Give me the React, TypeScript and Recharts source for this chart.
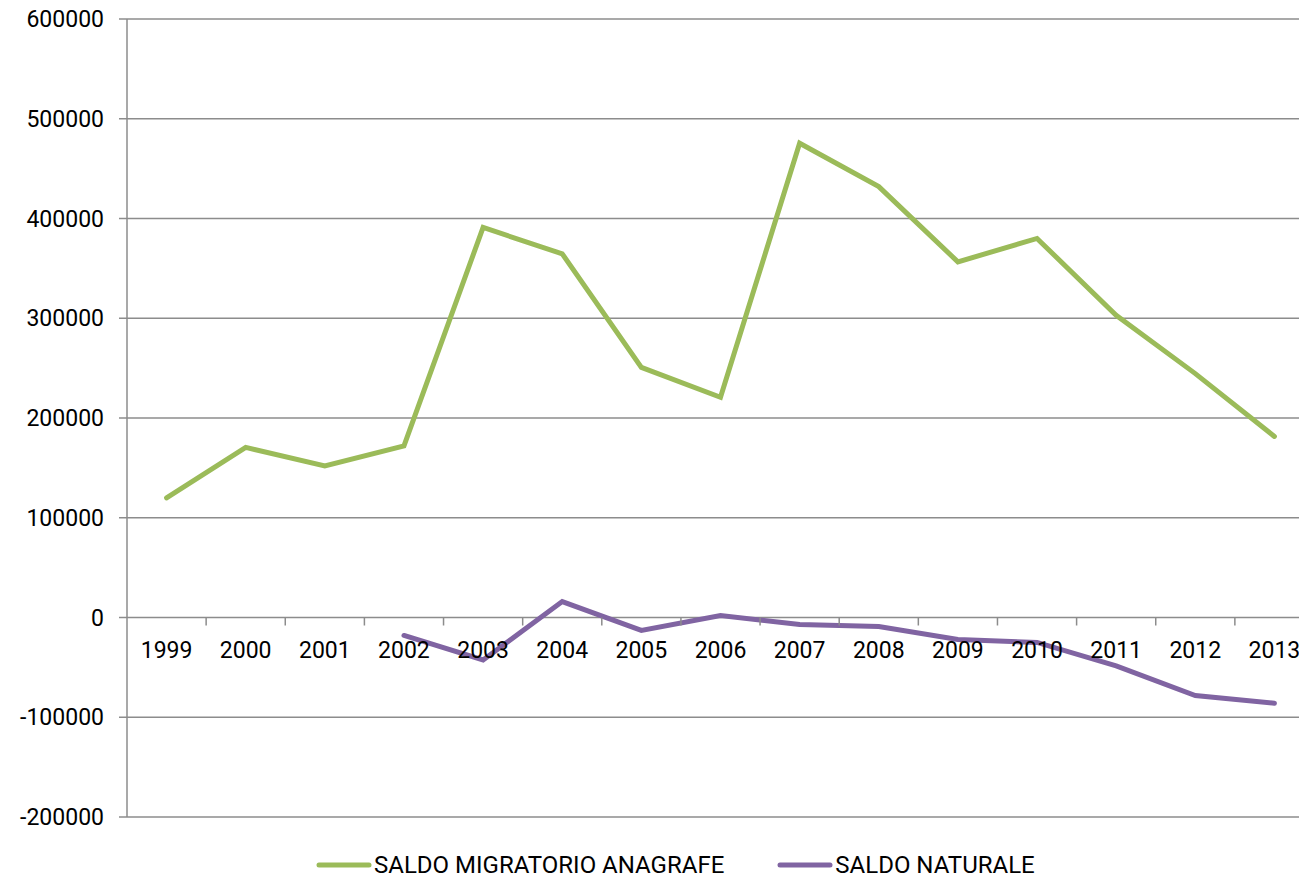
import React from 'react';
import { ComposedChart, Line, XAxis, YAxis, CartesianGrid, Legend, ReferenceDot } from 'recharts';

const years = ['1999', '2000', '2001', '2002', '2003', '2004', '2005', '2006', '2007', '2008', '2009', '2010', '2011', '2012', '2013'];
const saldoMigratorio = [120000, 170500, 152000, 172000, 391000, 364600, 250800, 220800, 475500, 432000, 356500, 380000, 303000, 244500, 181500];
const saldoNaturale: (number | null)[] = [null, null, null, -18000, -42500, 16000, -13000, 2000, -7000, -9000, -22000, -25000, -48500, -78200, -86000];
const yTicks = [-200000, -100000, 0, 100000, 200000, 300000, 400000, 500000, 600000];

const seriesNames = { migr: 'SALDO MIGRATORIO ANAGRAFE', nat: 'SALDO NATURALE' };
const GREEN = '#9BBB59';
const PURPLE = '#8064A2';
const GRID = '#8c8c8c';
const FONT = 'Roboto, "Open Sans", sans-serif';
const FONT_SIZE = 23;
const LEGEND_FONT_SIZE = 24;

const data = years.map((y, i) => ({ year: y, migr: saldoMigratorio[i], nat: saldoNaturale[i] }));

const CHART_W = 1320;
const CHART_H = 880;
const MARGIN = { top: 19, right: 6, bottom: 0, left: 0 };
const YAXIS_W = 127;
const BAND = (CHART_W - MARGIN.left - MARGIN.right - YAXIS_W) / years.length;

const XTick = (props: any) => {
  const { cx, cy, label } = props;
  if (cx == null || cy == null) return null;
  return (
    <g>
      <line x1={cx + BAND / 2} y1={cy} x2={cx + BAND / 2} y2={cy + 8} stroke={GRID} strokeWidth={1.5} />
      <text x={cx} y={cy + 34} textAnchor="middle" dominantBaseline="middle" fontFamily={FONT} fontSize={FONT_SIZE} fill="#000">
        {label}
      </text>
    </g>
  );
};

const LegendContent = () => {
  const items = [
    { name: seriesNames.migr, color: GREEN },
    { name: seriesNames.nat, color: PURPLE },
  ];
  return (
    <div style={{ position: 'relative', height: 63, width: CHART_W }}>
      <div style={{ position: 'absolute', left: 316, top: 34, display: 'flex', alignItems: 'center', height: 28 }}>
        {items.map((it, i) => (
          <div key={it.name} style={{ display: 'flex', alignItems: 'center', marginLeft: i === 0 ? 0 : 53 }}>
            <svg width={56} height={8} style={{ display: 'block' }}>
              <line x1={3} y1={4} x2={53} y2={4} stroke={it.color} strokeWidth={5} strokeLinecap="round" />
            </svg>
            <span style={{ fontFamily: FONT, fontSize: LEGEND_FONT_SIZE, color: '#000', marginLeft: 2, whiteSpace: 'nowrap', lineHeight: '28px' }}>
              {it.name}
            </span>
          </div>
        ))}
      </div>
    </div>
  );
};

export default function App() {
  return (
    <div style={{ position: 'absolute', left: 0, top: 0, width: 1299, height: 880, overflow: 'hidden', background: '#fff' }}>
      <ComposedChart width={CHART_W} height={CHART_H} data={data} margin={MARGIN}>
        <CartesianGrid vertical={false} stroke={GRID} strokeWidth={1.5} />
        <XAxis dataKey="year" type="category" scale="band" hide />
        <YAxis
          width={YAXIS_W}
          domain={[-200000, 600000]}
          ticks={yTicks}
          interval={0}
          allowDataOverflow
          axisLine={{ stroke: GRID, strokeWidth: 1.5 }}
          tickLine={{ stroke: GRID, strokeWidth: 1.5 }}
          tickSize={8}
          tickMargin={15}
          tick={{ fontFamily: FONT, fontSize: FONT_SIZE, fill: '#000' }}
        />
        {years.map((yr) => (
          <ReferenceDot key={yr} x={yr} y={0} r={0} ifOverflow="visible" shape={(p: any) => <XTick {...p} label={yr} />} />
        ))}
        <Line dataKey="migr" name={seriesNames.migr} stroke={GREEN} strokeWidth={5} strokeLinecap="round" dot={false} activeDot={false} isAnimationActive={false} />
        <Line dataKey="nat" name={seriesNames.nat} stroke={PURPLE} strokeWidth={5} strokeLinecap="round" dot={false} activeDot={false} connectNulls={false} isAnimationActive={false} />
        <Legend verticalAlign="bottom" content={<LegendContent />} wrapperStyle={{ left: 0, width: CHART_W, height: 63 }} />
      </ComposedChart>
    </div>
  );
}
